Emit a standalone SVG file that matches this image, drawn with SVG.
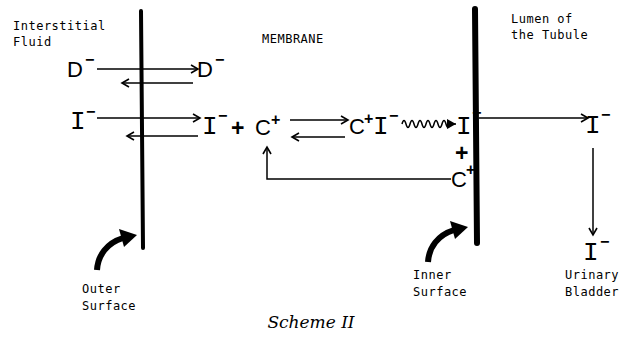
<svg xmlns="http://www.w3.org/2000/svg" width="619" height="339" viewBox="0 0 619 339">
<defs>
<style>
.lbl{font-family:"DejaVu Sans Mono","Liberation Mono",monospace;font-size:12px;letter-spacing:0.5px;fill:#000}
.sym{font-family:"Liberation Sans",Arial,sans-serif;font-size:22px;fill:#000}
.pl{font-family:"Liberation Sans",Arial,sans-serif;font-size:23px;font-weight:bold;fill:#000}
.ii{font-family:"Liberation Mono","Courier New",monospace;font-size:26px;fill:#000}
.sup{font-family:"Liberation Sans",Arial,sans-serif;font-size:16px;font-weight:bold;fill:#000}
.ln{fill:none;stroke:#000;stroke-width:1.5}
.mem{fill:none;stroke:#000;stroke-linecap:round}
.cap{font-family:"DejaVu Serif","Liberation Serif",serif;font-style:italic;font-size:17px;fill:#000}
</style>
<marker id="ah" markerUnits="userSpaceOnUse" markerWidth="12" markerHeight="12" refX="8" refY="5" orient="auto">
<path d="M1,1 L8,5 L1,9" fill="none" stroke="#000" stroke-width="1.6"/>
</marker>
<marker id="fh" markerUnits="userSpaceOnUse" markerWidth="12" markerHeight="12" refX="9" refY="5" orient="auto">
<path d="M0,0 L9,5 L0,10 Z" fill="#000"/>
</marker>
<g id="curve-arrow">
<path d="M0 35 C1 20 10 8 26 3" fill="none" stroke="#000" stroke-width="6"/>
<path d="M22 -6 L40 0 L27 12 Z" fill="#000"/>
</g>
</defs>
<rect width="619" height="339" fill="#fff"/>

<g id="membranes">
<path class="mem" d="M141 11 L143 248" stroke-width="4"/>
<path class="mem" d="M475 9 L477 243" stroke-width="6"/>
</g>

<g id="connectors">
<line class="ln" x1="97" y1="69" x2="198" y2="69" marker-end="url(#ah)"/>
<line class="ln" x1="193" y1="83" x2="122" y2="83" marker-end="url(#ah)"/>
<line class="ln" x1="97" y1="118" x2="200" y2="118" marker-end="url(#ah)"/>
<line class="ln" x1="198" y1="136" x2="127" y2="136" marker-end="url(#ah)"/>
<line class="ln" x1="290" y1="120" x2="348" y2="120" marker-end="url(#ah)"/>
<line class="ln" x1="345" y1="137" x2="292" y2="137" marker-end="url(#ah)"/>
<path class="ln" d="M402 124 q2 -7 4 0 t4 0 t4 0 t4 0 t4 0 t4 0 t4 0 t4 0 t4 0 t4 0 t4 0 t4 0 l6 0" marker-end="url(#fh)"/>
<polyline class="ln" points="451,179 267,179 267,147" marker-end="url(#ah)"/>
<line class="ln" x1="479" y1="118" x2="588" y2="118" marker-end="url(#ah)"/>
<line class="ln" x1="593" y1="148" x2="593" y2="235" marker-end="url(#ah)"/>
<use href="#curve-arrow" x="97" y="235"/>
<use href="#curve-arrow" x="428" y="227"/>
</g>

<g id="interstitial-fluid"><text class="lbl"><tspan x="13" y="30">Interstitial</tspan><tspan x="13" y="46">Fluid</tspan></text></g>
<g id="membrane-label"><text class="lbl" x="262" y="43">MEMBRANE</text></g>
<g id="lumen"><text class="lbl"><tspan x="511" y="23">Lumen of</tspan><tspan x="511" y="39">the Tubule</tspan></text></g>
<g id="outer-surface"><text class="lbl"><tspan x="82" y="293">Outer</tspan><tspan x="82" y="310">Surface</tspan></text></g>
<g id="inner-surface"><text class="lbl"><tspan x="413" y="279">Inner</tspan><tspan x="413" y="296">Surface</tspan></text></g>
<g id="urinary-bladder"><text class="lbl"><tspan x="565" y="279">Urinary</tspan><tspan x="565" y="296">Bladder</tspan></text></g>

<g id="d-out"><text><tspan class="sym" x="67" y="77">D</tspan><tspan class="sup" x="85" y="65">−</tspan></text></g>
<g id="d-in"><text><tspan class="sym" x="197" y="77">D</tspan><tspan class="sup" x="215" y="65">−</tspan></text></g>
<g id="i-out"><text><tspan class="ii" x="70" y="129">I</tspan><tspan class="sup" x="86" y="117">−</tspan></text></g>
<g id="i-c-in"><text><tspan class="ii" x="202" y="134">I</tspan><tspan class="sup" x="218" y="121">−</tspan><tspan class="pl" x="231" y="136">+</tspan><tspan class="sym" x="255" y="135">C</tspan><tspan class="sup" x="271" y="125">+</tspan></text></g>
<g id="ci-complex"><text><tspan class="sym" x="349" y="134">C</tspan><tspan class="sup" x="364" y="124">+</tspan><tspan class="ii" x="373" y="134">I</tspan><tspan class="sup" x="389" y="121">−</tspan></text></g>
<g id="i-inner"><text><tspan class="ii" x="456" y="134">I</tspan><tspan class="sup" x="472" y="118">−</tspan></text></g>
<g id="plus-inner"><text class="pl" x="455" y="161">+</text></g>
<g id="c-inner"><text><tspan class="sym" x="451" y="187">C</tspan><tspan class="sup" x="466" y="175">+</tspan></text></g>
<g id="i-lumen"><text><tspan class="ii" x="585" y="133">I</tspan><tspan class="sup" x="601" y="120">−</tspan></text></g>
<g id="i-bladder"><text><tspan class="ii" x="583" y="260">I</tspan><tspan class="sup" x="600" y="247">−</tspan></text></g>

<g id="caption"><text class="cap" x="311" y="328" text-anchor="middle">Scheme II</text></g>
</svg>
